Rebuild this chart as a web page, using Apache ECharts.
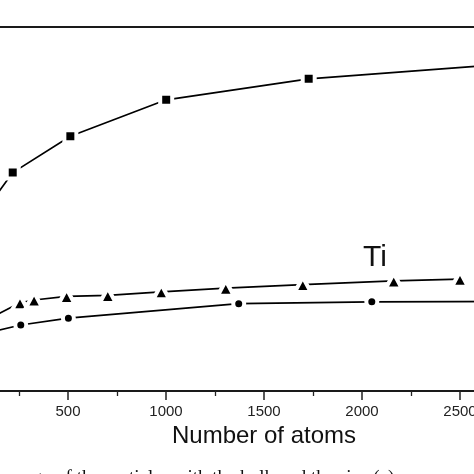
<!DOCTYPE html>
<html>
<head>
<meta charset="utf-8">
<script src="https://cdn.jsdelivr.net/npm/echarts@6/dist/echarts.min.js"></script>
<style>
html,body{margin:0;padding:0;background:#fff;width:474px;height:474px;overflow:hidden;position:relative;}
#c{position:absolute;left:-30px;top:0;width:588px;height:474px;}
</style>
</head>
<body>
<div id="c"></div>
<script>
// Data
var xTicks = [0, 500, 1000, 1500, 2000, 2500, 3000];
var squareX = [13, 218, 512, 1001, 1728, 2900];
var squareY = [3.79, 4.40, 4.80, 5.20, 5.43, 5.62];
var triangleX = [13, 255, 327, 493, 703, 976, 1305, 1698, 2162, 2500];
var triangleY = [2.70, 2.97, 3.00, 3.04, 3.05, 3.09, 3.13, 3.17, 3.21, 3.23];
var circleX = [13, 259, 502, 1371, 2050, 2900];
var circleY = [2.60, 2.725, 2.80, 2.96, 2.98, 2.985];
var tiLabel = 'Ti';
var tiPos = [2066, 3.46];
var xName = 'Number of atoms';
var caption = 'energy of the particles with the bulk and the size (a)';

function pairs(xs, ys){ return xs.map(function(x,i){ return [x, ys[i]]; }); }

var chart = echarts.init(document.getElementById('c'), null, {renderer:'canvas'});
var lineStyle = {color:'#000', width:1.7};
var itemStyle = {color:'#000', borderColor:'#fff', borderWidth:4};
chart.setOption({
  backgroundColor:'#fff',
  animation:false,
  grid:{left:0, right:0, top:27, bottom:83, outerBoundsMode:'none', containLabel:false,
    show:true, borderColor:'#1a1a1a', borderWidth:1.8, backgroundColor:'transparent'},
  xAxis:{
    type:'value', min:xTicks[0], max:xTicks[xTicks.length-1], interval:500,
    name:xName, nameLocation:'middle', nameGap:33,
    nameTextStyle:{fontFamily:'Liberation Sans', fontSize:24, color:'#111'},
    axisLine:{show:true, lineStyle:{color:'#1a1a1a', width:1.8}},
    axisTick:{show:true, inside:false, length:9, lineStyle:{color:'#222', width:1.5}},
    minorTick:{show:true, splitNumber:2, length:5, lineStyle:{color:'#222', width:1.3}},
    axisLabel:{fontFamily:'Liberation Sans', fontSize:15, color:'#222', margin:13,
      formatter:function(v){ return String(v); }},
    splitLine:{show:false}
  },
  yAxis:{type:'value', min:2, max:6, show:false, splitLine:{show:false}},
  graphic:[{
    type:'text', left:30, top:469,
    style:{text:caption, font:'19px "Liberation Serif"', fill:'#111'}
  }],
  series:[
    {type:'line', data:pairs(squareX, squareY), symbol:'rect', symbolSize:12,
     lineStyle:lineStyle, itemStyle:itemStyle, clip:true},
    {type:'line', data:pairs(triangleX, triangleY), symbol:'triangle', symbolSize:[16,15],
     lineStyle:lineStyle, itemStyle:itemStyle, clip:true,
     markPoint:{symbol:'circle', symbolSize:1, silent:true,
       itemStyle:{color:'rgba(0,0,0,0)', borderWidth:0},
       label:{show:true, position:'inside', formatter:tiLabel, fontFamily:'Liberation Sans', fontSize:30, color:'#111'},
       data:[{coord:tiPos}]}},
    {type:'line', data:pairs(circleX, circleY), symbol:'circle', symbolSize:11,
     lineStyle:lineStyle, itemStyle:itemStyle, clip:true}
  ]
});
</script>
</body>
</html>
